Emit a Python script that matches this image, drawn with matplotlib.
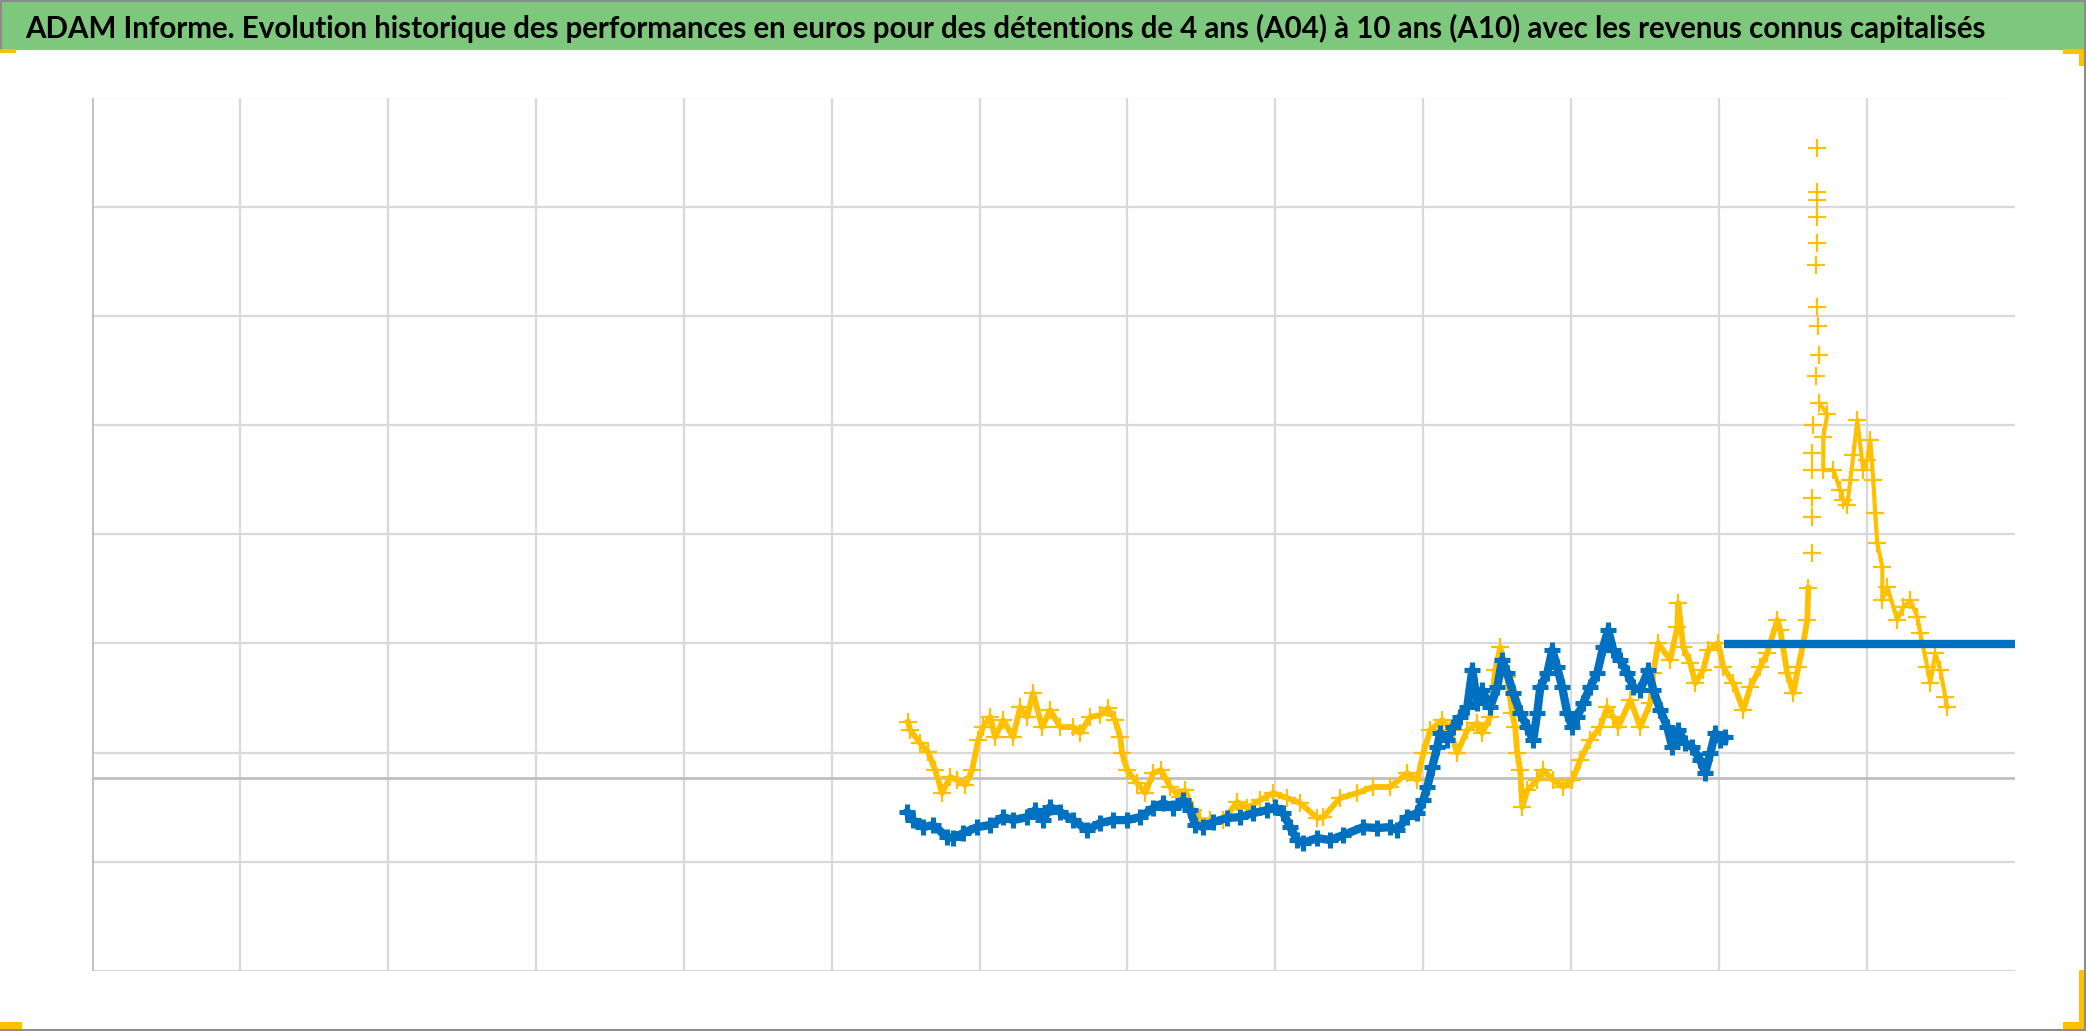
import matplotlib
matplotlib.use("Agg")
import matplotlib.pyplot as plt
from matplotlib import font_manager
from matplotlib.patches import Rectangle

# x = years from the left edge of the chart, y = performance (%)
# yellow series (A04)
a04_x = [5.517, 5.531, 5.598, 5.652, 5.700, 5.747, 5.801, 5.849, 5.903, 5.950,
         5.991, 6.024, 6.072, 6.105, 6.160, 6.227, 6.275, 6.322, 6.362, 6.423,
         6.477, 6.545, 6.633, 6.680, 6.748, 6.815, 6.870, 6.917, 6.951, 6.964,
         6.998, 7.066, 7.120, 7.174, 7.228, 7.289, 7.356, 7.390, 7.444, 7.492,
         7.559, 7.647, 7.742, 7.809, 7.897, 7.985, 8.080, 8.168, 8.283, 8.323,
         8.438, 8.553, 8.661, 8.776, 8.891, 8.959, 9.000, 9.047, 9.128, 9.182,
         9.229, 9.297, 9.365, 9.398, 9.452, 9.486, 9.520, 9.567, 9.601, 9.621,
         9.635, 9.655, 9.669, 9.703, 9.770, 9.811, 9.878, 9.946, 10.007, 10.061,
         10.128, 10.196, 10.243, 10.284, 10.318, 10.399, 10.467, 10.534, 10.555, 10.588,
         10.669, 10.717, 10.724, 10.757, 10.805, 10.838, 10.893, 10.926, 10.994, 11.028,
         11.095, 11.163, 11.210, 11.278, 11.325, 11.393, 11.413, 11.460, 11.501, 11.535,
         11.569, 11.596, 11.603, 11.630, 11.630, 11.630, 11.630, 11.630, 11.636, 11.657,
         11.677, 11.670, 11.663, 11.657, 11.663, 11.663, 11.663, 11.663, 11.663, 11.677,
         11.731, 11.704, 11.704, 11.772, 11.819, 11.839, 11.866, 11.887, 11.907, 11.934,
         11.974, 12.001, 12.022, 12.042, 12.055, 12.069, 12.103, 12.103, 12.137, 12.204,
         12.245, 12.292, 12.340, 12.360, 12.407, 12.428, 12.461, 12.495, 12.529, 12.542]
a04_y = [5.13, 4.40, 3.21, 2.38, 0.73, -1.37, 0.09, -0.18, -0.64, 0.73,
         3.48, 4.67, 5.59, 3.75, 5.31, 3.75, 6.50, 5.59, 7.78, 4.67,
         6.23, 4.67, 4.67, 4.12, 5.59, 5.77, 6.41, 5.31, 3.75, 2.29,
         0.73, -0.46, -1.37, 0.46, 0.73, -0.82, -1.74, -1.10, -2.93, -3.85,
         -3.85, -3.85, -2.20, -2.75, -2.01, -1.37, -1.83, -2.29, -3.66, -3.57,
         -1.83, -1.37, -0.82, -0.82, 0.46, -0.18, 2.29, 4.40, 5.31, 4.40,
         2.29, 4.40, 5.04, 4.12, 5.59, 9.89, 12.00, 9.25, 5.95, 4.67,
         2.29, 0.73, -2.66, -1.10, -0.18, 0.73, -0.18, -0.82, -0.18, 1.65,
         3.48, 4.67, 6.50, 5.59, 4.67, 7.14, 4.67, 6.87, 9.62, 12.36,
         10.81, 13.83, 16.03, 12.00, 10.53, 8.70, 9.89, 11.72, 12.36, 10.16,
         8.70, 6.23, 8.33, 10.16, 11.45, 14.47, 13.55, 9.62, 7.78, 10.16,
         12.36, 14.47, 17.40, 20.60, 23.90, 25.64, 28.21, 29.76, 32.33, 36.81,
         38.74, 41.39, 43.13, 46.98, 48.99, 51.37, 52.93, 53.66, 57.69, 34.34,
         33.33, 31.23, 28.21, 28.21, 26.37, 25.46, 25.00, 27.29, 29.58, 32.78,
         28.21, 29.12, 30.95, 27.29, 24.27, 21.52, 19.32, 16.30, 17.49, 14.47,
         15.66, 16.30, 14.74, 13.28, 10.16, 8.70, 11.45, 9.89, 7.42, 6.50]

# blue series (A10)
a10_x = [5.511, 5.551, 5.619, 5.686, 5.781, 5.822, 5.889, 5.984, 6.072, 6.160,
         6.227, 6.322, 6.376, 6.430, 6.477, 6.545, 6.633, 6.728, 6.815, 6.903,
         6.998, 7.086, 7.174, 7.241, 7.309, 7.377, 7.424, 7.458, 7.512, 7.580,
         7.674, 7.762, 7.850, 7.945, 7.999, 8.053, 8.100, 8.147, 8.188, 8.283,
         8.371, 8.458, 8.594, 8.688, 8.776, 8.824, 8.891, 8.959, 9.000, 9.027,
         9.060, 9.094, 9.114, 9.162, 9.202, 9.250, 9.297, 9.331, 9.365, 9.398,
         9.452, 9.500, 9.533, 9.567, 9.608, 9.655, 9.703, 9.743, 9.770, 9.791,
         9.838, 9.872, 9.905, 9.939, 9.973, 10.007, 10.041, 10.081, 10.128, 10.176,
         10.216, 10.250, 10.284, 10.331, 10.379, 10.419, 10.467, 10.521, 10.555, 10.602,
         10.649, 10.683, 10.724, 10.771, 10.818, 10.872, 10.906, 10.940, 10.974, 11.008,
         11.041]
a10_y = [-3.11, -3.85, -4.49, -4.30, -5.40, -5.49, -5.04, -4.49, -4.30, -3.57,
         -3.85, -3.57, -2.93, -3.85, -2.66, -3.11, -3.85, -4.76, -4.12, -3.85,
         -3.85, -3.57, -2.75, -2.29, -2.75, -2.01, -2.93, -4.30, -4.49, -4.03,
         -3.66, -3.57, -3.21, -2.93, -2.66, -3.21, -4.49, -5.68, -5.95, -5.49,
         -5.68, -5.22, -4.49, -4.58, -4.49, -4.76, -3.57, -3.21, -2.01, -0.82,
         1.01, 2.84, 4.12, 3.48, 4.67, 5.59, 6.50, 9.89, 6.87, 8.06,
         6.50, 8.33, 10.81, 9.62, 7.78, 5.95, 4.67, 3.48, 5.95, 8.33,
         9.62, 11.72, 10.16, 8.33, 5.95, 4.67, 5.59, 6.87, 8.33, 9.62,
         12.00, 13.55, 11.72, 10.81, 9.62, 8.33, 8.06, 9.89, 8.06, 6.23,
         4.67, 2.84, 4.40, 3.21, 2.84, 1.65, 0.46, 2.29, 4.12, 3.48,
         3.75]
# flat part of the blue series at the end
a10_flat_x = [11.03, 13.0]
a10_flat_y = [12.27, 12.27]

title = ("ADAM Informe. Evolution historique des performances en euros pour des "
         "détentions de 4 ans (A04) à 10 ans (A10) avec les revenus connus capitalisés")

x_grid = list(range(0, 13))
y_grid = [-17.67 + 10 * k for k in range(9)]

YELLOW = "#FFC000"
BLUE = "#0070C0"

# the sparse spike of the yellow series is drawn with markers only
spike_start, spike_end = 113, 129

W, H = 2086, 1031
fig = plt.figure(figsize=(W / 100, H / 100), dpi=100)
fig.patch.set_facecolor("white")

ax = fig.add_axes([92 / W, 1 - 971 / H, (2015 - 92) / W, (971 - 97.5) / H])
ax.set_xlim(0, 13)
ax.set_ylim(y_grid[0], y_grid[-1])
ax.set_xticks(x_grid)
ax.set_yticks(y_grid)
ax.tick_params(length=0, labelbottom=False, labelleft=False)
ax.grid(True, color="#D9D9D9", linewidth=1.6)
ax.set_axisbelow(True)
for s in ax.spines.values():
    s.set_visible(False)
ax.axvline(0, color="#BFBFBF", lw=2.0, zorder=1)
ax.axhline(0, color="#BFBFBF", lw=2.0, zorder=1)

# yellow
ax.plot(a04_x, a04_y, linestyle="none", marker="+", ms=13, mew=1.6,
        color=YELLOW, zorder=3)
ax.plot(a04_x[:spike_start], a04_y[:spike_start], color=YELLOW, lw=4.2, zorder=3)
ax.plot(a04_x[spike_end:], a04_y[spike_end:], color=YELLOW, lw=3, zorder=3)
# blue
ax.plot(a10_x, a10_y, linestyle="none", marker="+", ms=12, mew=3.6,
        color=BLUE, zorder=4)
ax.plot(a10_x, a10_y, color=BLUE, lw=6, zorder=4)
ax.plot(a10_flat_x, a10_flat_y, color=BLUE, lw=6, solid_capstyle="butt", zorder=4)

# title band
fig.patches.append(Rectangle((0, 1 - 50 / H), 1, 50 / H, transform=fig.transFigure,
                             facecolor="#7DC87D", edgecolor="none", zorder=0))
names = {f.name for f in font_manager.fontManager.ttflist}
title_font = "Liberation Sans Narrow" if "Liberation Sans Narrow" in names else "Lato"
t = fig.text(25 / W, 1 - 38 / H, title, ha="left", va="baseline",
             fontsize=22, fontweight="bold", family=[title_font, "DejaVu Sans"])
# fit the title width
fig.canvas.draw()
w = t.get_window_extent().width
t.set_fontsize(22 * 1968 / w)

# frame and corner marks
def px_rect(x0, y0, x1, y1, color):
    fig.patches.append(Rectangle((x0 / W, 1 - y1 / H), (x1 - x0) / W, (y1 - y0) / H,
                                 transform=fig.transFigure, facecolor=color,
                                 edgecolor="none", zorder=5))

px_rect(0, 0, 1.5, 50, "#8C8C8C")
px_rect(0, 0, W, 1.5, "#8C8C8C")
px_rect(W - 2, 0, W, H, "#8C8C8C")
px_rect(0, H - 2, W, H, "#8C8C8C")
px_rect(0, 49, 16, 53, YELLOW)
px_rect(2063, 49, 2084, 54, YELLOW)
px_rect(2079, 49, 2084, 66, YELLOW)
px_rect(0, 1022, 22, 1029, YELLOW)
px_rect(2063, 1022, 2084, 1029, YELLOW)
px_rect(2079, 970, 2084, 1029, YELLOW)

fig.savefig("out.png", dpi=100)
